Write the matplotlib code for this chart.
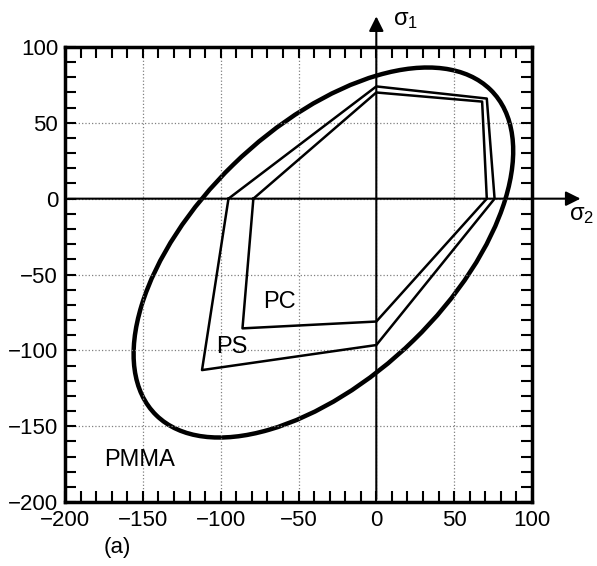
import numpy as np
import matplotlib.pyplot as plt
from matplotlib.patches import Ellipse

plt.rcParams['font.family'] = ['Liberation Sans', 'DejaVu Sans']
plt.rcParams['mathtext.fontset'] = 'custom'
plt.rcParams['mathtext.rm'] = 'Liberation Sans'

# PMMA yield envelope (ellipse)
pmma_center = (-34, -35.5)
pmma_major = 2 * 151.8
pmma_minor = 2 * 81.9
pmma_angle = 45

# PS and PC polygons (sigma2, sigma1)
ps_s2 = [-95, 0, 71, 76, 0, -112, -95]
ps_s1 = [0, 74, 66, 0, -96.5, -113, 0]
pc_s2 = [-79, 0, 68, 71, 0, -86, -79]
pc_s1 = [0, 70, 64, 0, -81, -85.5, 0]

labels = ['PC', 'PS', 'PMMA']
label_x = [-62, -93, -152]
label_y = [-68, -98, -172]

ticks = [-200, -150, -100, -50, 0, 50, 100]

fig = plt.figure(figsize=(5.97, 5.66), dpi=100)
ax = fig.add_axes([0.109, 0.113, 0.782, 0.804])

ax.set_xlim(-200, 100)
ax.set_ylim(-200, 100)
ax.set_xticks(ticks)
ax.set_yticks(ticks)
ax.set_xticks(np.arange(-200, 101, 10), minor=True)
ax.set_yticks(np.arange(-200, 101, 10), minor=True)
ax.tick_params(which='both', direction='in', top=True, right=True,
               length=8, width=1.5, labelsize=16)
ax.tick_params(axis='x', pad=6)
ax.tick_params(axis='y', pad=5)
ax.grid(True, which='major', linestyle=':', color='gray', linewidth=0.9)
for s in ax.spines.values():
    s.set_linewidth(2.5)

# coordinate axes with arrows
ax.annotate('', xy=(133, 0), xytext=(-200, 0),
            arrowprops=dict(arrowstyle='-|>', color='black', lw=1.5,
                            mutation_scale=22), annotation_clip=False)
ax.annotate('', xy=(0, 122), xytext=(0, -200),
            arrowprops=dict(arrowstyle='-|>', color='black', lw=1.5,
                            mutation_scale=22), annotation_clip=False)
ax.text(11, 118, r'$\mathregular{\sigma_1}$', fontsize=17, ha='left',
        va='center', clip_on=False)
ax.text(124, -11, r'$\mathregular{\sigma_2}$', fontsize=17, ha='left',
        va='center', clip_on=False)

ax.add_patch(Ellipse(pmma_center, pmma_major, pmma_minor, angle=pmma_angle,
                     fill=False, edgecolor='black', linewidth=3.2))
ax.plot(ps_s2, ps_s1, color='black', linewidth=1.8)
ax.plot(pc_s2, pc_s1, color='black', linewidth=1.8)

for t, x, y in zip(labels, label_x, label_y):
    ax.text(x, y, t, fontsize=17, ha='center', va='center')

fig.text(0.197, 0.032, '(a)', fontsize=16, ha='center', va='center')

plt.savefig('out.png', dpi=100)
